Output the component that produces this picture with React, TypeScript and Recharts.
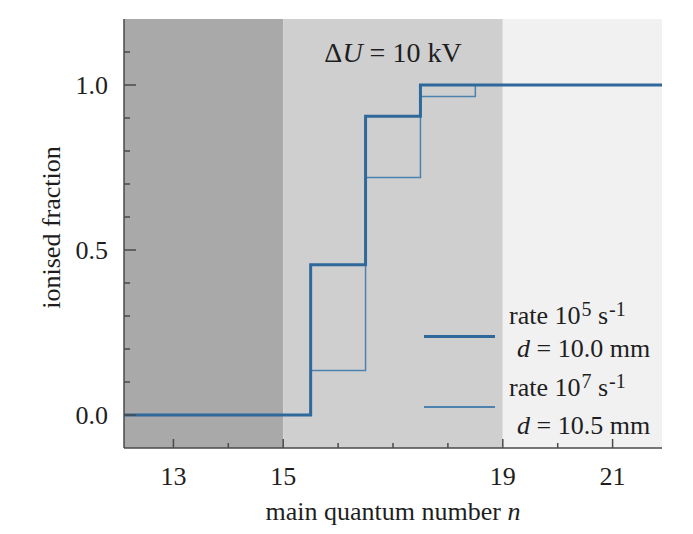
import React from 'react';
import { LineChart, Line, XAxis, YAxis, ReferenceArea, Legend, Label } from 'recharts';

// main quantum number n and ionised fraction for the two rates
const quantumNumbers = [12, 13, 14, 15, 16, 17, 18, 19, 20, 21, 22];
const fractionRate5 = [0, 0, 0, 0, 0.455, 0.905, 1, 1, 1, 1, 1];
const fractionRate7 = [0, 0, 0, 0, 0.135, 0.72, 0.965, 1, 1, 1, 1];

const xTicks = [13, 14, 15, 16, 17, 18, 19, 20, 21];
const xTickLabels = [13, 15, 19, 21];
const yTicks = [0, 0.1, 0.2, 0.3, 0.4, 0.5, 0.6, 0.7, 0.8, 0.9, 1.0, 1.1];
const yTickLabels = [0, 0.5, 1.0];

// shaded n ranges
const regionBounds = [12, 15, 19, 22];

const legendRates = [5, 7];
const legendDistances = ['10.0', '10.5'];

const data = quantumNumbers.map((n, i) => ({
    n,
    rate5: fractionRate5[i],
    rate7: fractionRate7[i],
}));

const FONT = '"Liberation Serif", "Times New Roman", serif';
const TEXT = '#1e1e1e';
const FRAME = '#4a4a4a';
const regionFills = ['#a9a9a9', '#cfcfcf', '#f1f1f1'];

const isYLabel = (v: number) => yTickLabels.some((l) => Math.abs(l - v) < 1e-6);
const isXLabel = (v: number) => xTickLabels.includes(v);

const BottomTick = (props: any) => {
    const { x, y, payload } = props;
    const major = isXLabel(payload.value);
    return (
        <g>
            <line x1={x} x2={x} y1={y} y2={y - (major ? 9 : 5)} stroke={FRAME} strokeWidth={1.5} />
            {major && (
                <text x={x} y={y + 37} textAnchor='middle' fontFamily={FONT} fontSize={26} fill={TEXT}>
                    {payload.value}
                </text>
            )}
        </g>
    );
};

const TopTick = (props: any) => {
    const { x, y, payload } = props;
    const major = isXLabel(payload.value);
    return <line x1={x} x2={x} y1={y} y2={y + (major ? 9 : 5)} stroke={FRAME} strokeWidth={1.5} />;
};

const LeftTick = (props: any) => {
    const { x, y, payload } = props;
    const major = isYLabel(payload.value);
    return (
        <g>
            <line x1={x} x2={x + (major ? 12 : 6)} y1={y} y2={y} stroke={FRAME} strokeWidth={1.5} />
            {major && (
                <text x={x - 16} y={y} dy='0.35em' textAnchor='end' fontFamily={FONT} fontSize={26} fill={TEXT}>
                    {payload.value.toFixed(1)}
                </text>
            )}
        </g>
    );
};

const RightTick = (props: any) => {
    const { x, y, payload } = props;
    const major = isYLabel(payload.value);
    return <line x1={x - (major ? 12 : 6)} x2={x} y1={y} y2={y} stroke={FRAME} strokeWidth={1.5} />;
};

const renderXTitle = (props: any) => {
    const vb = props.viewBox;
    return (
        <text x={vb.x + vb.width / 2} y={vb.y + 72} textAnchor='middle' fontFamily={FONT} fontSize={26} fill={TEXT}>
            main quantum number <tspan fontStyle='italic'>n</tspan>
        </text>
    );
};

const renderYTitle = (props: any) => {
    const vb = props.viewBox;
    const cy = vb.y + vb.height / 2 - 6;
    return (
        <text
            x={51}
            y={cy}
            transform={`rotate(-90 51 ${cy})`}
            textAnchor='middle'
            dy='0.35em'
            fontFamily={FONT}
            fontSize={26}
            fill={TEXT}
        >
            ionised fraction
        </text>
    );
};

const renderVoltage = (props: any) => {
    const vb = props.viewBox;
    return (
        <text x={vb.x + vb.width / 2} y={vb.y + 43} textAnchor='middle' fontFamily={FONT} fontSize={28} fill={TEXT}>
            Δ<tspan fontStyle='italic'>U</tspan> = 10 kV
        </text>
    );
};

const legendLayout = [
    { lineY: 336, top1: 303, top2: 336, width: 3, color: '#2f699b' },
    { lineY: 407, top1: 375, top2: 413, width: 1.5, color: '#4d82ae' },
];

const supStyle: React.CSSProperties = { fontSize: 20, position: 'relative', top: -8, marginLeft: 1 };

const renderLegend = () => (
    <div style={{ position: 'relative', width: 693, height: 534, fontFamily: FONT, fontSize: 26, color: TEXT }}>
        {legendRates.map((rate, i) => {
            const l = legendLayout[i];
            return (
                <React.Fragment key={rate}>
                    <div
                        style={{
                            position: 'absolute',
                            left: 424,
                            width: 71,
                            top: l.lineY - l.width / 2,
                            height: l.width,
                            background: l.color,
                        }}
                    />
                    <div style={{ position: 'absolute', left: 509, top: l.top1, lineHeight: '26px', whiteSpace: 'nowrap' }}>
                        rate 10<span style={supStyle}>{rate}</span> s<span style={supStyle}>-1</span>
                    </div>
                    <div style={{ position: 'absolute', left: 517, top: l.top2, lineHeight: '26px', whiteSpace: 'nowrap' }}>
                        <i>d</i> = {legendDistances[i]} mm
                    </div>
                </React.Fragment>
            );
        })}
    </div>
);

const App = () => {
    return (
        <div style={{ position: 'absolute', left: 0, top: 0, width: 693, height: 534, background: '#fff' }}>
            <LineChart width={693} height={534} data={data} margin={{ top: 19, right: 31, bottom: 0, left: 0 }}>
                {regionFills.map((fill, i) => (
                    <ReferenceArea
                        key={i}
                        x1={regionBounds[i]}
                        x2={regionBounds[i + 1]}
                        fill={fill}
                        fillOpacity={1}
                        stroke='none'
                        ifOverflow='hidden'
                        label={i === 1 ? renderVoltage : undefined}
                    />
                ))}
                <XAxis
                    dataKey='n'
                    type='number'
                    domain={[12.1, 21.9]}
                    allowDataOverflow
                    ticks={xTicks}
                    interval={0}
                    height={86}
                    tickSize={0}
                    tickMargin={0}
                    tickLine={false}
                    tick={<BottomTick />}
                    axisLine={{ stroke: FRAME, strokeWidth: 1.5 }}
                >
                    <Label content={renderXTitle} />
                </XAxis>
                <XAxis
                    xAxisId='top'
                    orientation='top'
                    dataKey='n'
                    type='number'
                    domain={[12.1, 21.9]}
                    allowDataOverflow
                    ticks={xTicks}
                    interval={0}
                    height={0}
                    tickSize={0}
                    tickMargin={0}
                    tickLine={false}
                    tick={<TopTick />}
                    axisLine={{ stroke: FRAME, strokeWidth: 1.5 }}
                />
                <YAxis
                    type='number'
                    domain={[-0.1, 1.2]}
                    allowDataOverflow
                    ticks={yTicks}
                    interval={0}
                    width={124}
                    tickSize={0}
                    tickMargin={0}
                    tickLine={false}
                    tick={<LeftTick />}
                    axisLine={{ stroke: FRAME, strokeWidth: 1.5 }}
                >
                    <Label content={renderYTitle} />
                </YAxis>
                <YAxis
                    yAxisId='right'
                    orientation='right'
                    type='number'
                    domain={[-0.1, 1.2]}
                    allowDataOverflow
                    ticks={yTicks}
                    interval={0}
                    width={0}
                    tickSize={0}
                    tickMargin={0}
                    tickLine={false}
                    tick={<RightTick />}
                    axisLine={{ stroke: FRAME, strokeWidth: 1.5 }}
                />
                <Line
                    dataKey='rate7'
                    type='step'
                    stroke='#4d82ae'
                    strokeWidth={1.5}
                    dot={false}
                    activeDot={false}
                    isAnimationActive={false}
                />
                <Line
                    dataKey='rate5'
                    type='step'
                    stroke='#2f699b'
                    strokeWidth={3}
                    dot={false}
                    activeDot={false}
                    isAnimationActive={false}
                />
                <Legend
                    layout='horizontal'
                    verticalAlign='middle'
                    align='center'
                    wrapperStyle={{ position: 'absolute', left: 0, top: 0, width: 693, height: 534, pointerEvents: 'none' }}
                    content={renderLegend}
                />
            </LineChart>
        </div>
    );
};

export default App;
